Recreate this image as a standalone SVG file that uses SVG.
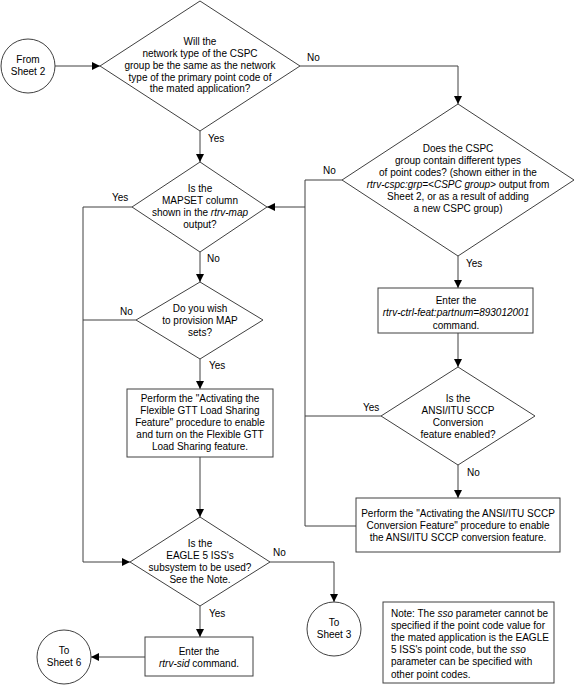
<svg xmlns="http://www.w3.org/2000/svg" width="575" height="685" viewBox="0 0 575 685">
<style>
text{font-family:"Liberation Sans",Arial,sans-serif;font-size:10px;fill:#000}
.c{text-anchor:middle}
.i{font-style:italic}
.s{fill:#fff;stroke:#404040;stroke-width:1}
.l{fill:none;stroke:#404040;stroke-width:1}
</style>
<defs>
<marker id="a" viewBox="0 0 10 10" refX="10" refY="5" markerWidth="8" markerHeight="8" markerUnits="userSpaceOnUse" orient="auto">
<path d="M0,0L10,5L0,10z" fill="#000"/>
</marker>
</defs>
<rect width="575" height="685" fill="#fff"/>
<g id="connectors">
<path class="l" d="M55,66H100" marker-end="url(#a)"/>
<path class="l" d="M200,131V162" marker-end="url(#a)"/>
<path class="l" d="M300,66H458V104" marker-end="url(#a)"/>
<path class="l" d="M132,207H83V562H130" marker-end="url(#a)"/>
<path class="l" d="M136,320H83"/>
<path class="l" d="M200,252V282" marker-end="url(#a)"/>
<path class="l" d="M200,359V389" marker-end="url(#a)"/>
<path class="l" d="M200,457V517" marker-end="url(#a)"/>
<path class="l" d="M270,562H334V602" marker-end="url(#a)"/>
<path class="l" d="M200,606V637" marker-end="url(#a)"/>
<path class="l" d="M145,657H91" marker-end="url(#a)"/>
<path class="l" d="M342,180H305V526H356"/>
<path class="l" d="M305,207H267" marker-end="url(#a)"/>
<path class="l" d="M381,416H305"/>
<path class="l" d="M458,256V288" marker-end="url(#a)"/>
<path class="l" d="M458,333V367" marker-end="url(#a)"/>
<path class="l" d="M458,465V498" marker-end="url(#a)"/>
<text x="307" y="61">No</text>
<text x="208" y="142">Yes</text>
<text x="112" y="201">Yes</text>
<text x="207" y="262">No</text>
<text x="120" y="315">No</text>
<text x="209" y="369">Yes</text>
<text x="273" y="556">No</text>
<text x="209" y="617">Yes</text>
<text x="323" y="174">No</text>
<text x="466" y="267">Yes</text>
<text x="363" y="411">Yes</text>
<text x="467" y="476">No</text>
</g>
<g id="from-sheet2">
<circle class="s" cx="28" cy="66" r="27"/>
<text class="c" x="28" y="62.5">From</text>
<text class="c" x="28" y="74.5">Sheet 2</text>
</g>
<g id="d-network-type">
<path class="s" d="M200,1L300,66L200,131L100,66z"/>
<text class="c" x="200" y="45.2">Will the</text>
<text class="c" x="200" y="57">network type of the CSPC</text>
<text class="c" x="200" y="68.8">group be the same as the network</text>
<text class="c" x="200" y="80.6">type of the primary point code of</text>
<text class="c" x="200" y="92.4">the mated application?</text>
</g>
<g id="d-mapset">
<path class="s" d="M200,162L267,207L200,252L132,207z"/>
<text class="c" x="200" y="191.5">Is the</text>
<text class="c" x="200" y="203.5">MAPSET column</text>
<text class="c" x="200" y="215.5">shown in the <tspan class="i">rtrv-map</tspan></text>
<text class="c" x="200" y="227.5">output?</text>
</g>
<g id="d-provision">
<path class="s" d="M200,282L263,320L200,359L136,320z"/>
<text class="c" x="200" y="311.5">Do you wish</text>
<text class="c" x="200" y="323.5">to provision MAP</text>
<text class="c" x="200" y="335.5">sets?</text>
</g>
<g id="b-flexible-gtt">
<rect class="s" x="127" y="389" width="146" height="68"/>
<text class="c" x="200" y="401.5">Perform the "Activating the</text>
<text class="c" x="200" y="413.5">Flexible GTT Load Sharing</text>
<text class="c" x="200" y="425.5">Feature" procedure to enable</text>
<text class="c" x="200" y="437.5">and turn on the Flexible GTT</text>
<text class="c" x="200" y="449.5">Load Sharing feature.</text>
</g>
<g id="d-eagle">
<path class="s" d="M200,517L270,562L200,606L130,562z"/>
<text class="c" x="200" y="546.5">Is the</text>
<text class="c" x="200" y="558.5">EAGLE 5 ISS's</text>
<text class="c" x="200" y="570.5">subsystem to be used?</text>
<text class="c" x="200" y="582.5">See the Note.</text>
</g>
<g id="b-rtrv-sid">
<rect class="s" x="145" y="637" width="108" height="39"/>
<text class="c" x="199" y="654.5">Enter the</text>
<text class="c" x="199" y="666.5"><tspan class="i">rtrv-sid</tspan> command.</text>
</g>
<g id="to-sheet6">
<circle class="s" cx="64" cy="657" r="27"/>
<text class="c" x="64" y="654">To</text>
<text class="c" x="64" y="666">Sheet 6</text>
</g>
<g id="to-sheet3">
<circle class="s" cx="334" cy="629" r="27"/>
<text class="c" x="334" y="625.5">To</text>
<text class="c" x="334" y="637.5">Sheet 3</text>
</g>
<g id="d-cspc-types">
<path class="s" d="M458,104L574,180L458,256L342,180z"/>
<text class="c" x="458" y="151.5">Does the CSPC</text>
<text class="c" x="458" y="163.5">group contain different types</text>
<text class="c" x="458" y="175.5">of point codes? (shown either in the</text>
<text class="c" x="458" y="187.5"><tspan class="i">rtrv-cspc:grp=&lt;CSPC group&gt;</tspan> output from</text>
<text class="c" x="458" y="199.5">Sheet 2, or as a result of adding</text>
<text class="c" x="458" y="211.5">a new CSPC group)</text>
</g>
<g id="b-ctrl-feat">
<rect class="s" x="378" y="288" width="155" height="45"/>
<text class="c" x="456" y="303.5">Enter the</text>
<text class="c i" x="456" y="316">rtrv-ctrl-feat:partnum=893012001</text>
<text class="c" x="456" y="328.5">command.</text>
</g>
<g id="d-ansi-itu">
<path class="s" d="M458,367L535,416L458,465L381,416z"/>
<text class="c" x="458" y="401.5">Is the</text>
<text class="c" x="458" y="413.5">ANSI/ITU SCCP</text>
<text class="c" x="458" y="425.5">Conversion</text>
<text class="c" x="458" y="437.5">feature enabled?</text>
</g>
<g id="b-ansi-itu">
<rect class="s" x="356" y="498" width="204" height="54"/>
<text class="c" x="458" y="516.5">Perform the "Activating the ANSI/ITU SCCP</text>
<text class="c" x="458" y="528.5">Conversion Feature" procedure to enable</text>
<text class="c" x="458" y="540.5">the ANSI/ITU SCCP conversion feature.</text>
</g>
<g id="note">
<rect class="s" x="383" y="602" width="171" height="81"/>
<text x="391" y="616.5">Note: The <tspan class="i">sso</tspan> parameter cannot be</text>
<text x="391" y="628.7">specified if the point code value for</text>
<text x="391" y="640.9">the mated application is the EAGLE</text>
<text x="391" y="653.1">5 ISS's point code, but the <tspan class="i">sso</tspan></text>
<text x="391" y="665.3">parameter can be specified with</text>
<text x="391" y="677.5">other point codes.</text>
</g>
</svg>
